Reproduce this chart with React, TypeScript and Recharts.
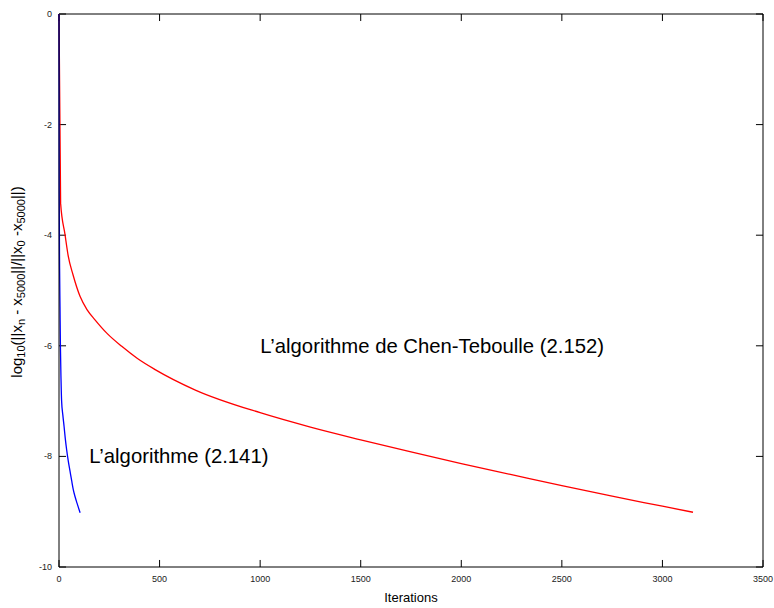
import React from "react";
import {
  LineChart,
  Line,
  XAxis,
  YAxis,
  ReferenceDot,
  ReferenceLine,
} from "recharts";

// Chen-Teboulle (2.152)
const chenIter = [0, 8, 30, 46, 70, 105, 140, 179, 240, 312, 390, 478, 678, 1000, 1250, 1500, 1750, 2000, 2250, 2500, 2750, 3000, 3152];
const chenErr = [0, -3.42, -3.99, -4.38, -4.72, -5.11, -5.35, -5.53, -5.78, -6.01, -6.23, -6.43, -6.8, -7.21, -7.47, -7.7, -7.92, -8.13, -8.33, -8.53, -8.72, -8.9, -9.01];

// algorithme (2.141)
const algIter = [0, 1, 3, 5, 7, 10, 13, 19, 25, 31, 38, 46, 55, 63, 71, 80, 90, 105];
const algErr = [0, -3.2, -4.6, -5.3, -6.0, -6.6, -7.0, -7.25, -7.45, -7.67, -7.88, -8.08, -8.27, -8.44, -8.6, -8.73, -8.85, -9.02];

const xTicks = [0, 500, 1000, 1500, 2000, 2500, 3000, 3500];
const yTicks = [-10, -8, -6, -4, -2, 0];
const X_MIN = 0, X_MAX = 3500, Y_MIN = -10, Y_MAX = 0;

const chenData = chenIter.map((it, i) => ({ it, v: chenErr[i] }));
const algData = algIter.map((it, i) => ({ it, v: algErr[i] }));

const FONT = "Liberation Sans, Arial, sans-serif";
const axisLine = { stroke: "#000", strokeWidth: 1 };
// inward tick length (~7px) in data units
const TICK_Y = 0.127;
const TICK_X = 35;

const BottomTick = ({ x, y, payload }: any) => (
  <text x={x} y={567 + 12} textAnchor="middle" dominantBaseline="central" fontSize={9} fill="#222" fontFamily={FONT}>
    {payload.value}
  </text>
);
const LeftTick = ({ x, y, payload }: any) => (
  <text x={52} y={y} textAnchor="end" dominantBaseline="central" fontSize={9} fill="#222" fontFamily={FONT}>
    {payload.value}
  </text>
);

const YLabel = () => (
  <text
    transform="translate(22,282) rotate(-90)"
    textAnchor="middle"
    fontSize={15}
    fontFamily={FONT}
    fill="#000"
  >
    log<tspan dy={3} fontSize={11}>10</tspan>
    <tspan dy={-3}>(||x</tspan>
    <tspan dy={3} fontSize={11}>n</tspan>
    <tspan dy={-3}> - x</tspan>
    <tspan dy={3} fontSize={11}>5000</tspan>
    <tspan dy={-3}>||/||x</tspan>
    <tspan dy={3} fontSize={11}>0</tspan>
    <tspan dy={-3}> -x</tspan>
    <tspan dy={3} fontSize={11}>5000</tspan>
    <tspan dy={-3}>||)</tspan>
  </text>
);

const note = (txt: string) => (props: any) => {
  const vb = props.viewBox || {};
  return (
    <text x={vb.x} y={vb.y} fontSize={20.3} fontFamily={FONT} fill="#000">
      {txt}
    </text>
  );
};

const tickSeg = (seg: any[], key: string) => (
  <ReferenceLine
    key={key}
    xAxisId="b"
    yAxisId="l"
    segment={seg}
    stroke="#000"
    strokeWidth={1}
    ifOverflow="visible"
  />
);

export default function App() {
  return (
    <div style={{ position: "absolute", left: 0, top: 0, background: "#fff" }}>
      <LineChart
        width={774}
        height={608}
        margin={{ top: 14, right: 11, bottom: 0, left: 0 }}
      >
        <XAxis
          xAxisId="b"
          dataKey="it"
          type="number"
          domain={[X_MIN, X_MAX]}
          ticks={xTicks}
          interval={0}
          height={41}
          tickSize={0}
          tickMargin={0}
          tick={BottomTick}
          axisLine={axisLine}
          tickLine={false}
          allowDuplicatedCategory={false}
          label={{
            value: "Iterations",
            position: "insideBottom",
            offset: 6,
            style: { fontSize: 13, fill: "#000", fontFamily: FONT },
          }}
        />
        <YAxis
          yAxisId="l"
          type="number"
          domain={[Y_MIN, Y_MAX]}
          ticks={yTicks}
          interval={0}
          width={59}
          tickSize={0}
          tickMargin={0}
          tick={LeftTick}
          axisLine={axisLine}
          tickLine={false}
          label={{ content: YLabel }}
        />
        {/* border top / right */}
        <ReferenceLine xAxisId="b" yAxisId="l" y={Y_MAX} stroke="#000" strokeWidth={1} ifOverflow="visible" />
        <ReferenceLine xAxisId="b" yAxisId="l" x={X_MAX} stroke="#000" strokeWidth={1} ifOverflow="visible" />
        {/* inward ticks, mirrored on all four sides */}
        {xTicks.map((t) => tickSeg([{ x: t, y: Y_MIN }, { x: t, y: Y_MIN + TICK_Y }], "xb" + t))}
        {xTicks.map((t) => tickSeg([{ x: t, y: Y_MAX }, { x: t, y: Y_MAX - TICK_Y }], "xt" + t))}
        {yTicks.map((t) => tickSeg([{ x: X_MIN, y: t }, { x: X_MIN + TICK_X, y: t }], "yl" + t))}
        {yTicks.map((t) => tickSeg([{ x: X_MAX, y: t }, { x: X_MAX - TICK_X, y: t }], "yr" + t))}
        <Line
          xAxisId="b"
          yAxisId="l"
          data={chenData}
          dataKey="v"
          type="monotone"
          stroke="#ff0000"
          strokeWidth={1.3}
          dot={false}
          isAnimationActive={false}
        />
        <Line
          xAxisId="b"
          yAxisId="l"
          data={algData}
          dataKey="v"
          type="monotone"
          stroke="#0000ff"
          strokeWidth={1.3}
          dot={false}
          isAnimationActive={false}
        />
        <ReferenceDot
          xAxisId="b"
          yAxisId="l"
          x={1000}
          y={-6.13}
          r={0}
          fill="none"
          stroke="none"
          label={{ content: note("L\u2019algorithme de Chen-Teboulle (2.152)") }}
        />
        <ReferenceDot
          xAxisId="b"
          yAxisId="l"
          x={150}
          y={-8.12}
          r={0}
          fill="none"
          stroke="none"
          label={{ content: note("L\u2019algorithme (2.141)") }}
        />
      </LineChart>
    </div>
  );
}
